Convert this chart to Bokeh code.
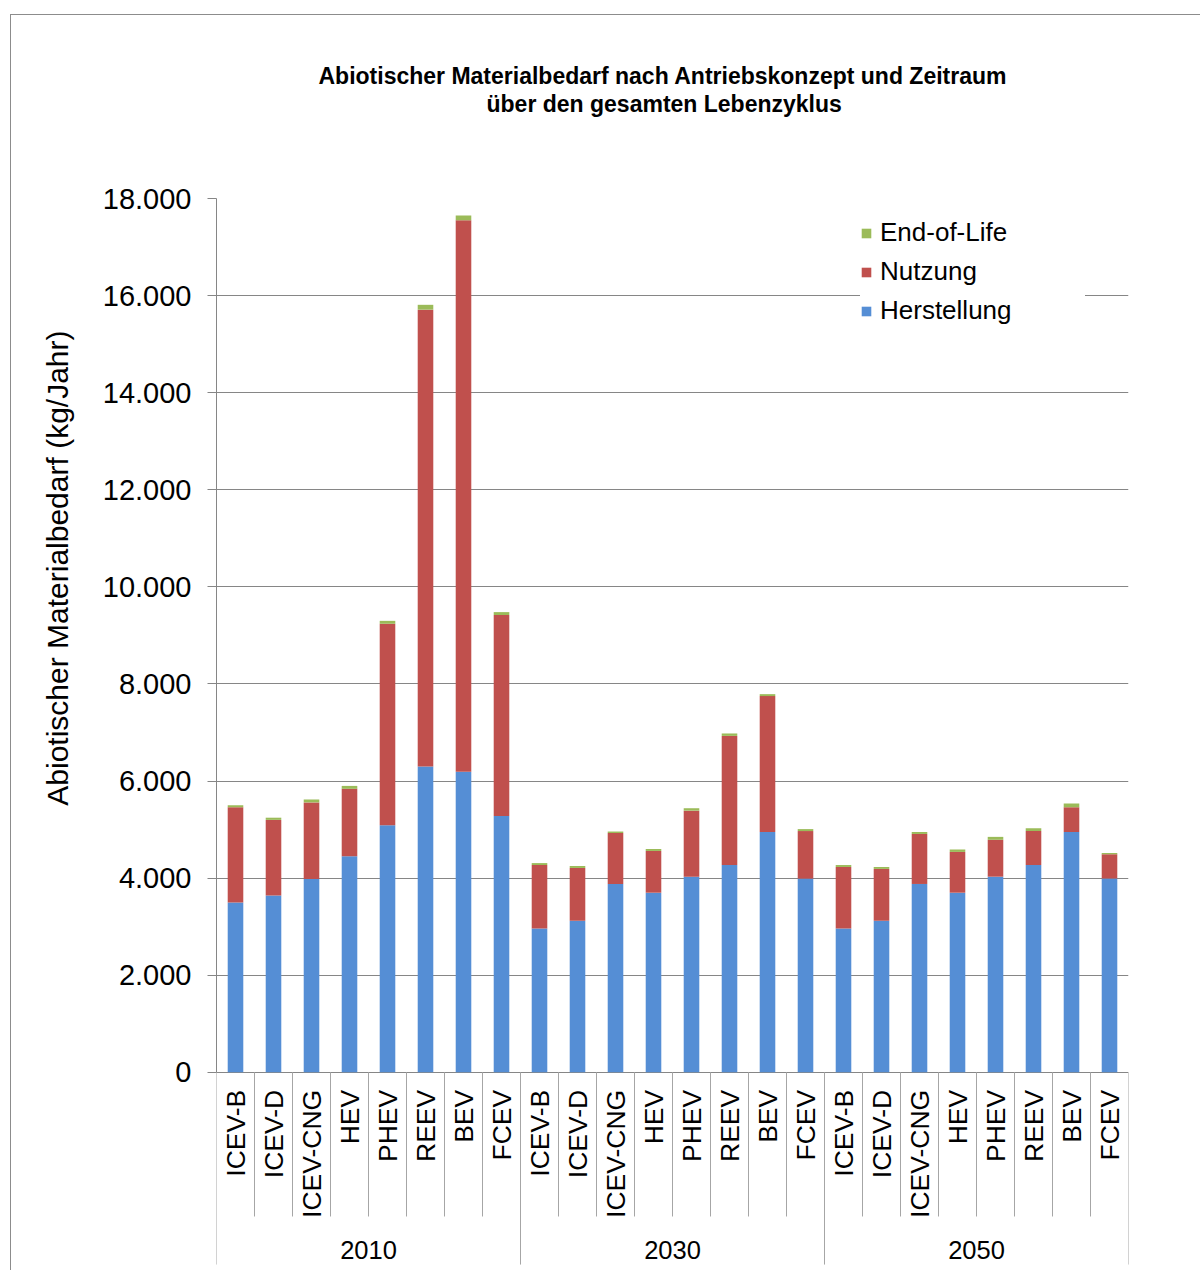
import math
from bokeh.plotting import figure
from bokeh.models import Range1d, FixedTicker, Legend, LegendItem, ColumnDataSource, Title
from bokeh.core.properties import value
from bokeh.embed import file_html
from bokeh.resources import INLINE

# ---------------- data ----------------
years = ["2010", "2030", "2050"]
concepts = ["ICEV-B", "ICEV-D", "ICEV-CNG", "HEV", "PHEV", "REEV", "BEV", "FCEV"]

herstellung = [3500, 3640, 3980, 4450, 5090, 6300, 6190, 5280,
               2960, 3120, 3880, 3700, 4030, 4270, 4950, 3990,
               2960, 3120, 3880, 3700, 4030, 4270, 4950, 3990]
nutzung = [1960, 1560, 1580, 1390, 4150, 9410, 11360, 4140,
           1310, 1090, 1050, 860, 1360, 2660, 2800, 980,
           1270, 1070, 1030, 840, 760, 700, 510, 500]
end_of_life = [40, 45, 60, 60, 60, 100, 100, 60,
               40, 40, 30, 40, 50, 50, 40, 40,
               40, 40, 40, 50, 60, 60, 80, 30]

series = ["Herstellung", "Nutzung", "End-of-Life"]
colors = ["#558ED5", "#C0504D", "#9BBB59"]

y_ticks = [0, 2000, 4000, 6000, 8000, 10000, 12000, 14000, 16000, 18000]
y_tick_labels = ["0", "2.000", "4.000", "6.000", "8.000", "10.000",
                 "12.000", "14.000", "16.000", "18.000"]

title_lines = ["Abiotischer Materialbedarf nach Antriebskonzept und Zeitraum",
               "über den gesamten Lebenzyklus"]
y_label = "Abiotischer Materialbedarf (kg/Jahr)"

# ---------------- derived ----------------
n_cat = len(years) * len(concepts)
xs = [i + 0.5 for i in range(n_cat)]
cat_labels = [c for _ in years for c in concepts]

src = ColumnDataSource(dict(x=xs, Herstellung=herstellung, Nutzung=nutzung,
                            **{"End-of-Life": end_of_life}))

FONT = "Liberation Sans"
GRID = "#868686"
SEP = "#a6a6a6"

p = figure(width=1190, height=1256, output_backend="svg", toolbar_location=None,
           x_range=Range1d(0, n_cat), y_range=Range1d(-4000, 18000),
           x_axis_location=None,
           min_border_left=205, min_border_right=73, min_border_top=183,
           min_border_bottom=5)
p.margin = (14, 0, 0, 10)
p.styles = {"border-top": "1px solid #8c8c8c", "border-left": "1px solid #8c8c8c"}
p.outline_line_color = None
p.background_fill_color = "white"

# title: blank spacer + two lines (first added = closest to the plot)
spacer = Title(text=".", text_font=FONT, text_font_size="23px", text_color="white", standoff=63)
p.add_layout(spacer, "above")
for txt, off in [(title_lines[1], 270), (title_lines[0], 102)]:
    t = Title(text=txt, align="left", offset=off, text_font=FONT, text_font_size="23px",
              text_font_style="bold", text_color="black", standoff=0)
    p.add_layout(t, "above")

# y axis
ya = p.yaxis[0]
ya.ticker = FixedTicker(ticks=y_ticks)
ya.major_label_overrides = {t: l for t, l in zip(y_ticks, y_tick_labels)}
ya.bounds = (0, 18000)
ya.axis_line_color = GRID
ya.major_tick_line_color = GRID
ya.major_tick_out = 9
ya.major_tick_in = 0
ya.minor_tick_line_color = None
ya.major_label_text_font = FONT
ya.major_label_text_font_size = "29px"
ya.major_label_text_color = "black"
ya.major_label_standoff = 16

# y-axis title, placed like the original (upper part of the axis)
yt = Title(text=y_label, align="right", offset=132, text_font=FONT,
           text_font_size="30px", text_font_style="normal", text_color="black",
           standoff=52)
p.add_layout(yt, "left")

p.xgrid.visible = False
p.ygrid[0].ticker = FixedTicker(ticks=y_ticks)
p.ygrid[0].grid_line_color = GRID
p.ygrid[0].grid_line_width = 1

# bars
rs = p.vbar_stack(series, x="x", width=0.41, source=src, color=colors, line_color=None)

# category separators
sep_x = list(range(n_cat + 1))
sep_y1 = [-3960 if i % len(concepts) == 0 else -2970 for i in sep_x]
p.segment(x0=sep_x, y0=[0] * len(sep_x), x1=sep_x, y1=sep_y1, line_color=SEP, line_width=1)

# category labels
p.text(x=xs, y=[-360] * n_cat, text=cat_labels, angle=math.pi / 2,
       text_align="right", text_baseline="middle",
       text_font=value(FONT), text_font_size="26.5px", text_color="black")

# year labels
yx = [len(concepts) * (k + 0.5) for k in range(len(years))]
p.text(x=yx, y=[-3650] * len(years), text=years,
       text_align="center", text_baseline="middle",
       text_font=value(FONT), text_font_size="25.5px", text_color="black")

# legend
items = [LegendItem(label=s, renderers=[r]) for s, r in zip(series[::-1], rs[::-1])]
leg = Legend(items=items, location=(644, 940))
leg.label_text_font = FONT
leg.label_text_font_size = "26px"
leg.label_text_color = "black"
leg.glyph_width = 12
leg.glyph_height = 12
leg.label_standoff = 8
leg.label_height = 30
leg.label_width = 205
leg.spacing = 8
leg.padding = 10
leg.margin = 0
leg.border_line_color = None
leg.background_fill_color = "white"
leg.background_fill_alpha = 1.0
p.add_layout(leg)

open("out.html", "w").write(file_html(p, INLINE))
